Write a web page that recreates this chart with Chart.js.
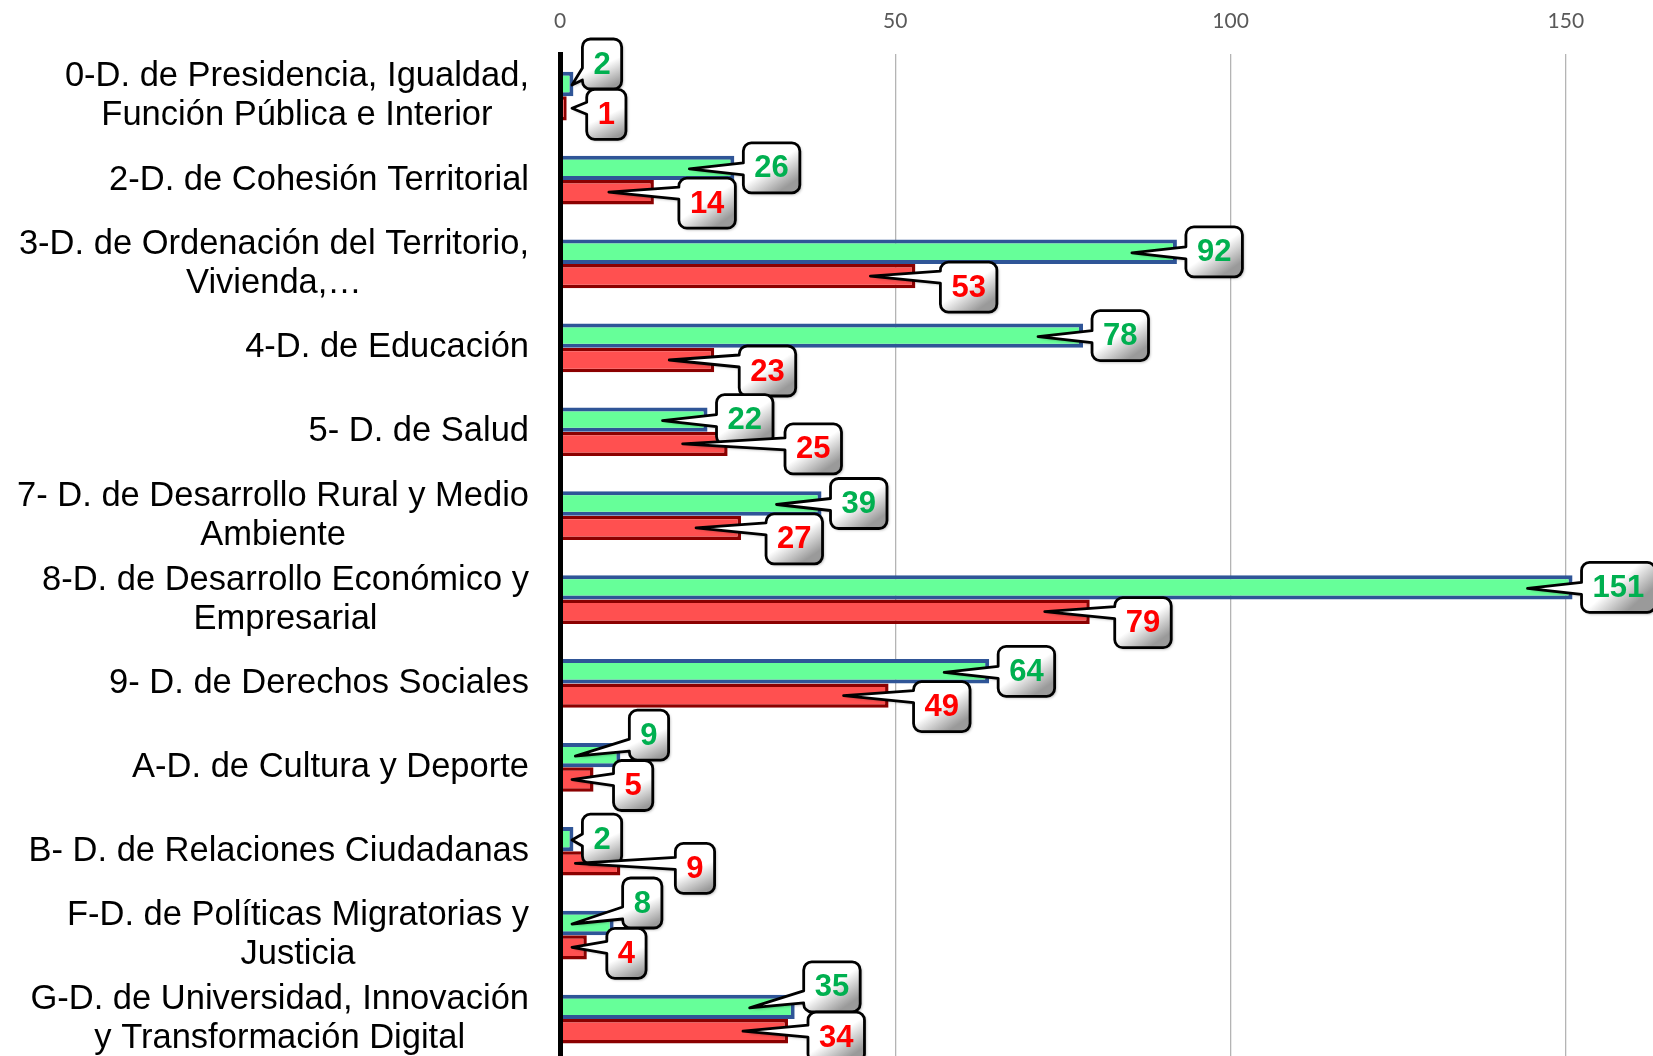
<!DOCTYPE html>
<html>
<head>
<meta charset="utf-8">
<script src="https://cdn.jsdelivr.net/npm/chart.js@4.4.1/dist/chart.umd.min.js"></script>
<style>
  html, body { margin: 0; padding: 0; background: #ffffff; overflow: hidden; }
  #wrap { width: 1653px; height: 1056px; overflow: hidden; }
  canvas { display: block; }
</style>
</head>
<body>
<div id="wrap"><canvas id="c" width="1653" height="1061"></canvas></div>
<script>
const categories = [
  ["0-D. de Presidencia, Igualdad,", "Función Pública e Interior"],
  "2-D. de Cohesión Territorial",
  ["3-D. de Ordenación del Territorio,", "Vivienda,…"],
  "4-D. de Educación",
  "5- D. de Salud",
  ["7- D. de Desarrollo Rural y Medio", "Ambiente"],
  ["8-D. de Desarrollo Económico y", "Empresarial"],
  "9- D. de Derechos Sociales",
  "A-D. de Cultura y Deporte",
  "B- D. de Relaciones Ciudadanas",
  ["F-D. de Políticas Migratorias y", "Justicia"],
  ["G-D. de Universidad, Innovación", "y Transformación Digital"]
];
const greenValues = [2, 26, 92, 78, 22, 39, 151, 64, 9, 2, 8, 35];
const redValues   = [1, 14, 53, 23, 25, 27, 79, 49, 5, 9, 4, 34];
const xTicks = [0, 50, 100, 150];

const GREEN_TEXT = '#00B050';
const RED_TEXT = '#FF0000';
const LABEL_FONT = '34.5px "Liberation Sans", Arial, sans-serif';
const CALLOUT_FONT = 'bold 31px "Liberation Sans", Arial, sans-serif';

// Category labels: block right-aligned, lines centred inside the block
const catLabelPlugin = {
  id: 'catLabels',
  afterDraw(chart) {
    const ctx = chart.ctx;
    const ys = chart.scales.y;
    const right = chart.chartArea.left - 31;
    const lh = 39;
    ctx.save();
    ctx.font = LABEL_FONT;
    ctx.fillStyle = '#000000';
    ctx.textAlign = 'center';
    ctx.textBaseline = 'middle';
    categories.forEach((lab, i) => {
      const lines = Array.isArray(lab) ? lab : [lab];
      const w = Math.max(...lines.map(l => ctx.measureText(l).width));
      const cy = ys.getPixelForValue(i);
      lines.forEach((l, k) => {
        ctx.fillText(l, right - w / 2, cy + (k - (lines.length - 1) / 2) * lh);
      });
    });
    ctx.restore();
  }
};

function calloutPath(ctx, x, y, w, h, r, tipX, tipY) {
  const bc = Math.min(Math.max(tipY, y + r + 7), y + h - r - 7);
  const b1 = bc - 6, b2 = bc + 6;
  ctx.beginPath();
  ctx.moveTo(x + r, y);
  ctx.lineTo(x + w - r, y);
  ctx.arcTo(x + w, y, x + w, y + r, r);
  ctx.lineTo(x + w, y + h - r);
  ctx.arcTo(x + w, y + h, x + w - r, y + h, r);
  ctx.lineTo(x + r, y + h);
  ctx.arcTo(x, y + h, x, y + h - r, r);
  ctx.lineTo(x, b2);
  ctx.lineTo(tipX, tipY);
  ctx.lineTo(x, b1);
  ctx.lineTo(x, y + r);
  ctx.arcTo(x, y, x + r, y, r);
  ctx.closePath();
}

function drawCallout(ctx, text, color, left, cy, w, tipX, tipY) {
  const h = 50, top = cy - h / 2;
  const g = ctx.createLinearGradient(left, top, left + w * 0.6, top + h);
  g.addColorStop(0, '#ffffff');
  g.addColorStop(0.58, '#ffffff');
  g.addColorStop(1, '#9a9a9a');
  ctx.save();
  ctx.shadowColor = 'rgba(0,0,0,0.35)';
  ctx.shadowBlur = 3;
  ctx.shadowOffsetX = 1.5;
  ctx.shadowOffsetY = 1.5;
  calloutPath(ctx, left, top, w, h, 8, tipX, tipY);
  ctx.fillStyle = g;
  ctx.fill();
  ctx.restore();
  calloutPath(ctx, left, top, w, h, 8, tipX, tipY);
  ctx.lineWidth = 2.8;
  ctx.strokeStyle = '#000000';
  ctx.lineJoin = 'round';
  ctx.stroke();
  ctx.font = CALLOUT_FONT;
  ctx.fillStyle = color;
  ctx.textAlign = 'center';
  ctx.textBaseline = 'middle';
  ctx.fillText(text, left + w / 2, cy + 1);
}

const calloutPlugin = {
  id: 'callouts',
  afterDraw(chart) {
    const ctx = chart.ctx;
    const xs = chart.scales.x;
    const zero = xs.getPixelForValue(0);
    const mg = chart.getDatasetMeta(0);
    const mr = chart.getDatasetMeta(1);
    ctx.save();
    ctx.font = CALLOUT_FONT;
    for (let i = 0; i < categories.length; i++) {
      const gb = mg.data[i], rb = mr.data[i];
      const gx = gb.x, gy = gb.y, rx = rb.x, ry = rb.y;
      const gt = String(greenValues[i]), rt = String(redValues[i]);
      const gw = ctx.measureText(gt).width + 22;
      const rw = ctx.measureText(rt).width + 22;
      let gLeft = gx + 9, gCy = gy;
      let rLeft, rCy;
      if (redValues[i] > greenValues[i]) {
        rLeft = Math.max(rx + 55, gLeft + gw + 12);
        rCy = ry + 5;
      } else {
        rLeft = rx + 25;
        rCy = ry + 11;
        const overlapX = !(rLeft > gLeft + gw || rLeft + rw < gLeft);
        if (overlapX) {
          rLeft = rx + 20;
          gCy = gy - 20;
          rCy = ry + 6;
        }
      }
      const gTip = [Math.max(zero + 12, gx - 45), gy + 1];
      const rTip = [Math.max(zero + 12, rx - 45), ry];
      drawCallout(ctx, gt, GREEN_TEXT, gLeft, gCy, gw, gTip[0], gTip[1]);
      drawCallout(ctx, rt, RED_TEXT, rLeft, rCy, rw, rTip[0], rTip[1]);
    }
    ctx.restore();
  }
};

function build() {
  new Chart(document.getElementById('c'), {
    type: 'bar',
    data: {
      labels: categories,
      datasets: [
        {
          label: 'A',
          data: greenValues,
          backgroundColor: '#66FF99',
          borderColor: '#2F5597',
          borderWidth: 4
        },
        {
          label: 'B',
          data: redValues,
          backgroundColor: '#FF5050',
          borderColor: '#8B0000',
          borderWidth: 3.5
        }
      ]
    },
    options: {
      indexAxis: 'y',
      responsive: false,
      animation: false,
      devicePixelRatio: 1,
      layout: { padding: { left: 560, top: -11, right: 0, bottom: 0 } },
      datasets: { bar: { categoryPercentage: 0.58, barPercentage: 1 } },
      plugins: {
        legend: { display: false },
        tooltip: { enabled: false },
        title: { display: false }
      },
      scales: {
        x: {
          position: 'top',
          min: 0,
          max: 163,
          afterBuildTicks(scale) { scale.ticks = xTicks.map(v => ({ value: v })); },
          ticks: {
            color: '#595959',
            font: { family: 'Lato, "Open Sans", sans-serif', size: 21 },
            padding: 20,
            maxRotation: 0
          },
          grid: { color: '#B4B4B4', lineWidth: 1.3, drawTicks: false },
          border: { display: false }
        },
        y: {
          type: 'category',
          offset: true,
          ticks: { display: false },
          grid: { display: false, drawTicks: false },
          border: { display: true, color: '#000000', width: 5, z: 1 }
        }
      }
    },
    plugins: [catLabelPlugin, calloutPlugin]
  });
}

Promise.all([
  document.fonts.load(LABEL_FONT),
  document.fonts.load(CALLOUT_FONT),
  document.fonts.load('21px Lato')
]).then(build, build);
</script>
</body>
</html>
